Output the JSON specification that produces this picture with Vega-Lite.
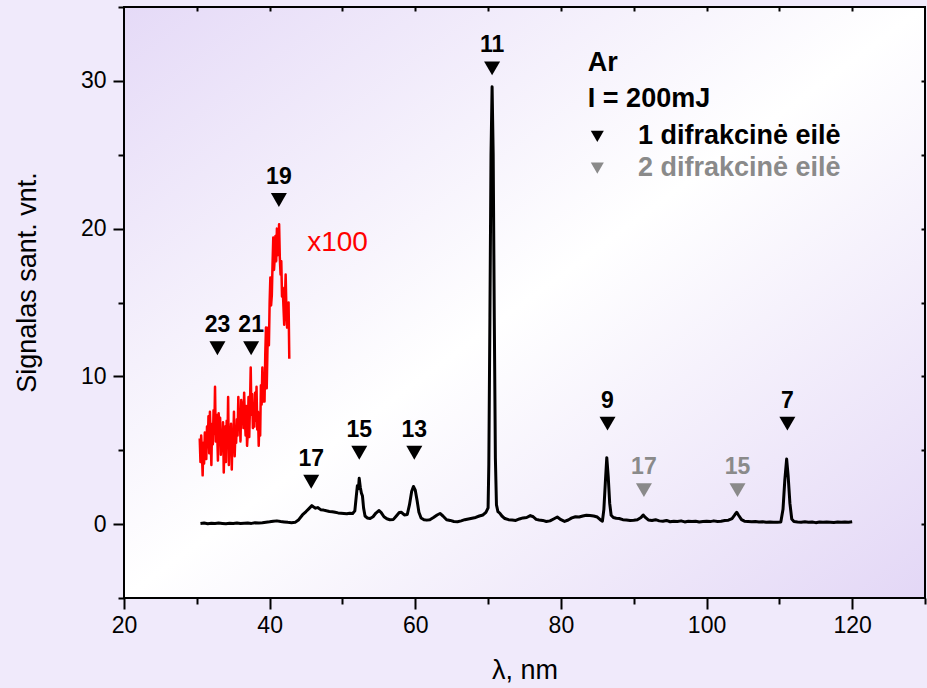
{
  "$schema": "https://vega.github.io/schema/vega-lite/v6.json",
  "width": 801,
  "height": 591,
  "autosize": {"type": "none"},
  "padding": {"left": 124, "top": 7, "right": 2, "bottom": 90},
  "background": "#f0eafb",
  "config": {
    "font": "Liberation Sans",
    "view": {
      "stroke": "#000000",
      "strokeWidth": 2,
      "fill": {
        "gradient": "linear",
        "x1": 0, "y1": 0, "x2": 1, "y2": 1,
        "stops": [
          {"offset": 0, "color": "#e5daf7"},
          {"offset": 0.5, "color": "#ffffff"},
          {"offset": 1, "color": "#e3d7f6"}
        ]
      }
    },
    "axis": {
      "domain": false,
      "grid": false,
      "tickColor": "#000000",
      "tickWidth": 2,
      "labelColor": "#000000",
      "labelFont": "Liberation Sans",
      "labelFontSize": 23,
      "titleColor": "#000000",
      "titleFont": "Liberation Sans",
      "titleFontWeight": "normal",
      "titleFontSize": 27,
      "zindex": 1
    }
  },
  "datasets": {
    "spectrum": [
      {"lambda": 30.5, "signal": 0.05}, {"lambda": 31.0, "signal": 0.08}, {"lambda": 31.5, "signal": 0.03},
      {"lambda": 32.0, "signal": 0.06}, {"lambda": 32.5, "signal": 0.04}, {"lambda": 33.0, "signal": 0.07},
      {"lambda": 33.5, "signal": 0.05}, {"lambda": 34.0, "signal": 0.03}, {"lambda": 34.5, "signal": 0.06},
      {"lambda": 35.0, "signal": 0.05}, {"lambda": 35.5, "signal": 0.08}, {"lambda": 36.0, "signal": 0.04},
      {"lambda": 36.5, "signal": 0.06}, {"lambda": 37.0, "signal": 0.07}, {"lambda": 37.5, "signal": 0.05},
      {"lambda": 38.0, "signal": 0.09}, {"lambda": 38.5, "signal": 0.08}, {"lambda": 39.0, "signal": 0.1},
      {"lambda": 39.5, "signal": 0.13}, {"lambda": 40.0, "signal": 0.16}, {"lambda": 40.5, "signal": 0.2},
      {"lambda": 41.0, "signal": 0.22}, {"lambda": 41.5, "signal": 0.18}, {"lambda": 42.0, "signal": 0.15},
      {"lambda": 42.5, "signal": 0.12}, {"lambda": 43.0, "signal": 0.1}, {"lambda": 43.5, "signal": 0.12},
      {"lambda": 44.0, "signal": 0.3}, {"lambda": 44.5, "signal": 0.62}, {"lambda": 45.0, "signal": 0.85},
      {"lambda": 45.4, "signal": 1.05}, {"lambda": 45.8, "signal": 1.25}, {"lambda": 46.0, "signal": 1.18},
      {"lambda": 46.3, "signal": 1.08}, {"lambda": 46.6, "signal": 1.12}, {"lambda": 47.0, "signal": 0.98},
      {"lambda": 47.4, "signal": 0.95}, {"lambda": 47.8, "signal": 0.9}, {"lambda": 48.2, "signal": 0.86},
      {"lambda": 48.6, "signal": 0.84}, {"lambda": 49.0, "signal": 0.8}, {"lambda": 49.4, "signal": 0.76},
      {"lambda": 49.8, "signal": 0.74}, {"lambda": 50.2, "signal": 0.72}, {"lambda": 50.6, "signal": 0.7},
      {"lambda": 51.0, "signal": 0.74}, {"lambda": 51.4, "signal": 0.72}, {"lambda": 51.7, "signal": 0.9},
      {"lambda": 51.9, "signal": 1.9}, {"lambda": 52.05, "signal": 2.6}, {"lambda": 52.2, "signal": 2.4},
      {"lambda": 52.3, "signal": 3.1}, {"lambda": 52.45, "signal": 2.5}, {"lambda": 52.6, "signal": 2.1},
      {"lambda": 52.75, "signal": 1.9}, {"lambda": 52.9, "signal": 1.1}, {"lambda": 53.1, "signal": 0.55},
      {"lambda": 53.4, "signal": 0.42}, {"lambda": 53.8, "signal": 0.38}, {"lambda": 54.2, "signal": 0.5},
      {"lambda": 54.6, "signal": 0.75}, {"lambda": 55.0, "signal": 0.92}, {"lambda": 55.3, "signal": 0.8},
      {"lambda": 55.7, "signal": 0.5}, {"lambda": 56.1, "signal": 0.36}, {"lambda": 56.5, "signal": 0.3},
      {"lambda": 57.0, "signal": 0.32}, {"lambda": 57.4, "signal": 0.55}, {"lambda": 57.8, "signal": 0.78},
      {"lambda": 58.1, "signal": 0.8}, {"lambda": 58.5, "signal": 0.62}, {"lambda": 58.9, "signal": 0.65},
      {"lambda": 59.2, "signal": 1.3}, {"lambda": 59.5, "signal": 2.2}, {"lambda": 59.75, "signal": 2.55},
      {"lambda": 60.0, "signal": 2.3}, {"lambda": 60.25, "signal": 1.6}, {"lambda": 60.5, "signal": 0.8},
      {"lambda": 60.8, "signal": 0.42}, {"lambda": 61.2, "signal": 0.3}, {"lambda": 61.6, "signal": 0.27},
      {"lambda": 62.0, "signal": 0.3}, {"lambda": 62.5, "signal": 0.45}, {"lambda": 63.0, "signal": 0.62},
      {"lambda": 63.4, "signal": 0.72}, {"lambda": 63.8, "signal": 0.55}, {"lambda": 64.3, "signal": 0.3},
      {"lambda": 64.8, "signal": 0.25}, {"lambda": 65.3, "signal": 0.18}, {"lambda": 65.8, "signal": 0.16},
      {"lambda": 66.3, "signal": 0.22}, {"lambda": 66.8, "signal": 0.3}, {"lambda": 67.3, "signal": 0.35},
      {"lambda": 67.8, "signal": 0.4}, {"lambda": 68.3, "signal": 0.45}, {"lambda": 68.8, "signal": 0.55},
      {"lambda": 69.3, "signal": 0.62}, {"lambda": 69.7, "signal": 0.8}, {"lambda": 70.0, "signal": 1.1},
      {"lambda": 70.1, "signal": 4.0}, {"lambda": 70.25, "signal": 14.0}, {"lambda": 70.4, "signal": 25.0},
      {"lambda": 70.55, "signal": 29.6}, {"lambda": 70.7, "signal": 25.0}, {"lambda": 70.85, "signal": 14.0},
      {"lambda": 71.0, "signal": 4.5}, {"lambda": 71.15, "signal": 1.3}, {"lambda": 71.35, "signal": 0.85},
      {"lambda": 71.6, "signal": 0.75}, {"lambda": 71.9, "signal": 0.55}, {"lambda": 72.3, "signal": 0.38},
      {"lambda": 72.8, "signal": 0.3}, {"lambda": 73.3, "signal": 0.28}, {"lambda": 73.8, "signal": 0.25},
      {"lambda": 74.3, "signal": 0.35}, {"lambda": 74.8, "signal": 0.42}, {"lambda": 75.3, "signal": 0.45},
      {"lambda": 75.8, "signal": 0.58}, {"lambda": 76.2, "signal": 0.5}, {"lambda": 76.6, "signal": 0.32},
      {"lambda": 77.0, "signal": 0.28}, {"lambda": 77.5, "signal": 0.25}, {"lambda": 78.0, "signal": 0.18},
      {"lambda": 78.5, "signal": 0.22}, {"lambda": 79.0, "signal": 0.35}, {"lambda": 79.5, "signal": 0.48},
      {"lambda": 80.0, "signal": 0.3}, {"lambda": 80.5, "signal": 0.18}, {"lambda": 81.0, "signal": 0.28},
      {"lambda": 81.5, "signal": 0.42}, {"lambda": 82.0, "signal": 0.5}, {"lambda": 82.5, "signal": 0.48},
      {"lambda": 83.0, "signal": 0.55}, {"lambda": 83.5, "signal": 0.6}, {"lambda": 84.0, "signal": 0.58},
      {"lambda": 84.5, "signal": 0.55}, {"lambda": 85.0, "signal": 0.48}, {"lambda": 85.4, "signal": 0.3},
      {"lambda": 85.7, "signal": 0.2}, {"lambda": 85.9, "signal": 1.0}, {"lambda": 86.1, "signal": 2.8},
      {"lambda": 86.3, "signal": 4.5}, {"lambda": 86.5, "signal": 3.2}, {"lambda": 86.7, "signal": 1.4},
      {"lambda": 86.9, "signal": 0.6}, {"lambda": 87.2, "signal": 0.45}, {"lambda": 87.6, "signal": 0.4},
      {"lambda": 88.0, "signal": 0.38}, {"lambda": 88.5, "signal": 0.3}, {"lambda": 89.0, "signal": 0.28},
      {"lambda": 89.5, "signal": 0.25}, {"lambda": 90.0, "signal": 0.27}, {"lambda": 90.5, "signal": 0.3},
      {"lambda": 91.0, "signal": 0.45}, {"lambda": 91.3, "signal": 0.62}, {"lambda": 91.6, "signal": 0.45},
      {"lambda": 92.0, "signal": 0.28}, {"lambda": 92.5, "signal": 0.25}, {"lambda": 93.0, "signal": 0.3},
      {"lambda": 93.5, "signal": 0.22}, {"lambda": 94.0, "signal": 0.2}, {"lambda": 94.5, "signal": 0.25},
      {"lambda": 95.0, "signal": 0.16}, {"lambda": 95.5, "signal": 0.2}, {"lambda": 96.0, "signal": 0.18},
      {"lambda": 96.5, "signal": 0.22}, {"lambda": 97.0, "signal": 0.15}, {"lambda": 97.5, "signal": 0.2},
      {"lambda": 98.0, "signal": 0.17}, {"lambda": 98.5, "signal": 0.2}, {"lambda": 99.0, "signal": 0.15},
      {"lambda": 99.5, "signal": 0.18}, {"lambda": 100.0, "signal": 0.2}, {"lambda": 100.5, "signal": 0.17},
      {"lambda": 101.0, "signal": 0.22}, {"lambda": 101.5, "signal": 0.18}, {"lambda": 102.0, "signal": 0.2},
      {"lambda": 102.5, "signal": 0.25}, {"lambda": 103.0, "signal": 0.27}, {"lambda": 103.5, "signal": 0.38},
      {"lambda": 103.9, "signal": 0.65}, {"lambda": 104.15, "signal": 0.8}, {"lambda": 104.4, "signal": 0.6},
      {"lambda": 104.8, "signal": 0.3}, {"lambda": 105.2, "signal": 0.2}, {"lambda": 105.7, "signal": 0.18},
      {"lambda": 106.2, "signal": 0.16}, {"lambda": 106.7, "signal": 0.18}, {"lambda": 107.2, "signal": 0.14},
      {"lambda": 107.7, "signal": 0.16}, {"lambda": 108.2, "signal": 0.12}, {"lambda": 108.7, "signal": 0.15},
      {"lambda": 109.2, "signal": 0.13}, {"lambda": 109.7, "signal": 0.12}, {"lambda": 110.2, "signal": 0.15},
      {"lambda": 110.5, "signal": 1.0}, {"lambda": 110.75, "signal": 3.0}, {"lambda": 111.0, "signal": 4.4},
      {"lambda": 111.2, "signal": 3.3}, {"lambda": 111.45, "signal": 1.4}, {"lambda": 111.7, "signal": 0.35},
      {"lambda": 112.0, "signal": 0.18}, {"lambda": 112.5, "signal": 0.15}, {"lambda": 113.0, "signal": 0.13},
      {"lambda": 113.5, "signal": 0.16}, {"lambda": 114.0, "signal": 0.12}, {"lambda": 114.5, "signal": 0.15},
      {"lambda": 115.0, "signal": 0.1}, {"lambda": 115.5, "signal": 0.14}, {"lambda": 116.0, "signal": 0.12},
      {"lambda": 116.5, "signal": 0.15}, {"lambda": 117.0, "signal": 0.13}, {"lambda": 117.5, "signal": 0.11},
      {"lambda": 118.0, "signal": 0.14}, {"lambda": 118.5, "signal": 0.12}, {"lambda": 119.0, "signal": 0.15},
      {"lambda": 119.5, "signal": 0.13}, {"lambda": 120.0, "signal": 0.16}
    ],
    "magnified": [
      {"lambda": 30.4, "signal": 5.8}, {"lambda": 30.5, "signal": 4.2}, {"lambda": 30.6, "signal": 6.0},
      {"lambda": 30.7, "signal": 4.9}, {"lambda": 30.8, "signal": 3.3}, {"lambda": 30.9, "signal": 5.5},
      {"lambda": 31.0, "signal": 4.1}, {"lambda": 31.1, "signal": 6.2}, {"lambda": 31.2, "signal": 5.0},
      {"lambda": 31.3, "signal": 4.4}, {"lambda": 31.4, "signal": 6.6}, {"lambda": 31.5, "signal": 5.2},
      {"lambda": 31.6, "signal": 7.3}, {"lambda": 31.7, "signal": 4.8}, {"lambda": 31.8, "signal": 7.6},
      {"lambda": 31.9, "signal": 5.9}, {"lambda": 32.0, "signal": 4.0}, {"lambda": 32.1, "signal": 6.8},
      {"lambda": 32.2, "signal": 5.4}, {"lambda": 32.3, "signal": 7.7}, {"lambda": 32.4, "signal": 6.1},
      {"lambda": 32.5, "signal": 9.3}, {"lambda": 32.6, "signal": 5.6}, {"lambda": 32.7, "signal": 7.4},
      {"lambda": 32.8, "signal": 6.2}, {"lambda": 32.9, "signal": 4.3}, {"lambda": 33.0, "signal": 7.5},
      {"lambda": 33.1, "signal": 6.0}, {"lambda": 33.2, "signal": 7.2}, {"lambda": 33.3, "signal": 4.7},
      {"lambda": 33.4, "signal": 6.3}, {"lambda": 33.5, "signal": 5.1}, {"lambda": 33.6, "signal": 6.9},
      {"lambda": 33.7, "signal": 3.5}, {"lambda": 33.8, "signal": 5.8}, {"lambda": 33.9, "signal": 6.6},
      {"lambda": 34.0, "signal": 4.2}, {"lambda": 34.1, "signal": 7.0}, {"lambda": 34.2, "signal": 5.3},
      {"lambda": 34.3, "signal": 8.6}, {"lambda": 34.4, "signal": 4.0}, {"lambda": 34.5, "signal": 6.4},
      {"lambda": 34.6, "signal": 5.0}, {"lambda": 34.7, "signal": 6.8}, {"lambda": 34.8, "signal": 3.7},
      {"lambda": 34.9, "signal": 6.1}, {"lambda": 35.0, "signal": 5.2}, {"lambda": 35.1, "signal": 7.6},
      {"lambda": 35.2, "signal": 4.6}, {"lambda": 35.3, "signal": 6.2}, {"lambda": 35.4, "signal": 5.5},
      {"lambda": 35.5, "signal": 7.1}, {"lambda": 35.6, "signal": 6.0}, {"lambda": 35.7, "signal": 8.6},
      {"lambda": 35.8, "signal": 6.4}, {"lambda": 35.9, "signal": 7.3}, {"lambda": 36.0, "signal": 5.6},
      {"lambda": 36.1, "signal": 8.4}, {"lambda": 36.2, "signal": 7.0}, {"lambda": 36.3, "signal": 8.2},
      {"lambda": 36.4, "signal": 6.5}, {"lambda": 36.5, "signal": 8.9}, {"lambda": 36.6, "signal": 7.1},
      {"lambda": 36.7, "signal": 6.0}, {"lambda": 36.8, "signal": 8.0}, {"lambda": 36.9, "signal": 5.3},
      {"lambda": 37.0, "signal": 6.2}, {"lambda": 37.1, "signal": 8.6}, {"lambda": 37.2, "signal": 5.9},
      {"lambda": 37.3, "signal": 8.0}, {"lambda": 37.4, "signal": 10.6}, {"lambda": 37.5, "signal": 7.4},
      {"lambda": 37.6, "signal": 8.8}, {"lambda": 37.7, "signal": 6.5}, {"lambda": 37.8, "signal": 7.9},
      {"lambda": 37.9, "signal": 6.6}, {"lambda": 38.0, "signal": 8.9}, {"lambda": 38.1, "signal": 7.0},
      {"lambda": 38.2, "signal": 9.3}, {"lambda": 38.3, "signal": 6.4}, {"lambda": 38.4, "signal": 7.6},
      {"lambda": 38.5, "signal": 5.3}, {"lambda": 38.6, "signal": 7.2}, {"lambda": 38.7, "signal": 6.0},
      {"lambda": 38.8, "signal": 9.4}, {"lambda": 38.9, "signal": 8.1}, {"lambda": 39.0, "signal": 10.6},
      {"lambda": 39.1, "signal": 8.3}, {"lambda": 39.2, "signal": 10.2}, {"lambda": 39.3, "signal": 8.3},
      {"lambda": 39.4, "signal": 11.5}, {"lambda": 39.5, "signal": 13.3}, {"lambda": 39.6, "signal": 9.2},
      {"lambda": 39.7, "signal": 11.8}, {"lambda": 39.8, "signal": 13.3}, {"lambda": 39.9, "signal": 12.1},
      {"lambda": 40.0, "signal": 15.0}, {"lambda": 40.1, "signal": 16.7}, {"lambda": 40.2, "signal": 14.8},
      {"lambda": 40.3, "signal": 15.5}, {"lambda": 40.4, "signal": 17.6}, {"lambda": 40.5, "signal": 19.4},
      {"lambda": 40.6, "signal": 17.2}, {"lambda": 40.7, "signal": 18.0}, {"lambda": 40.8, "signal": 19.5},
      {"lambda": 40.9, "signal": 17.8}, {"lambda": 41.0, "signal": 20.0}, {"lambda": 41.1, "signal": 18.2},
      {"lambda": 41.2, "signal": 18.7}, {"lambda": 41.3, "signal": 20.3}, {"lambda": 41.4, "signal": 18.0},
      {"lambda": 41.5, "signal": 16.9}, {"lambda": 41.6, "signal": 17.8}, {"lambda": 41.7, "signal": 15.4},
      {"lambda": 41.8, "signal": 16.0}, {"lambda": 41.9, "signal": 14.7}, {"lambda": 42.0, "signal": 13.5},
      {"lambda": 42.1, "signal": 15.2}, {"lambda": 42.2, "signal": 16.9}, {"lambda": 42.3, "signal": 14.6},
      {"lambda": 42.4, "signal": 13.3}, {"lambda": 42.5, "signal": 14.0}, {"lambda": 42.6, "signal": 15.0},
      {"lambda": 42.7, "signal": 11.2}
    ],
    "harmonics": [
      {"lambda": 32.83, "signal": 11.9, "label": "23", "order": "1"},
      {"lambda": 37.46, "signal": 11.9, "label": "21", "order": "1"},
      {"lambda": 41.27, "signal": 21.94, "label": "19", "order": "1"},
      {"lambda": 45.71, "signal": 2.87, "label": "17", "order": "1"},
      {"lambda": 52.31, "signal": 4.83, "label": "15", "order": "1"},
      {"lambda": 59.87, "signal": 4.83, "label": "13", "order": "1"},
      {"lambda": 70.55, "signal": 30.85, "label": "11", "order": "1"},
      {"lambda": 86.4, "signal": 6.8, "label": "9", "order": "1"},
      {"lambda": 111.1, "signal": 6.8, "label": "7", "order": "1"},
      {"lambda": 91.4, "signal": 2.3, "label": "17", "order": "2"},
      {"lambda": 104.25, "signal": 2.3, "label": "15", "order": "2"}
    ],
    "heading": [
      {"lambda": 83.7, "signal": 31.19, "text": "Ar"},
      {"lambda": 83.7, "signal": 28.75, "text": "I = 200mJ"}
    ],
    "key": [
      {"lambda": 85.0, "textLambda": 90.58, "signal": 26.25, "order": "1", "text": "1 difrakcinė eilė"},
      {"lambda": 85.0, "textLambda": 90.58, "signal": 24.1, "order": "2", "text": "2 difrakcinė eilė"}
    ],
    "factor": [
      {"lambda": 45.16, "signal": 19.0, "text": "x100"}
    ]
  },
  "layer": [
    {
      "data": {"name": "spectrum"},
      "mark": {"type": "line", "color": "#000000", "strokeWidth": 3, "strokeJoin": "round"},
      "encoding": {
        "x": {
          "field": "lambda", "type": "quantitative",
          "scale": {"domain": [20, 130], "nice": false, "zero": false},
          "axis": {
            "orient": "bottom", "values": [20, 40, 60, 80, 100, 120],
            "tickSize": 11, "labelPadding": 5, "labelFlush": false,
            "title": "λ, nm", "titlePadding": 20
          }
        },
        "y": {
          "field": "signal", "type": "quantitative",
          "scale": {"domain": [-5, 35], "nice": false, "zero": false},
          "axis": {
            "orient": "left", "values": [0, 10, 20, 30],
            "tickSize": 11, "labelPadding": 7, "labelFlush": false,
            "title": "Signalas sant. vnt.",
            "titleAngle": -90, "titleAlign": "center", "titleBaseline": "middle",
            "titleX": -97, "titleY": 275
          }
        }
      }
    },
    {
      "data": {"name": "magnified"},
      "mark": {"type": "line", "color": "#ff0000", "strokeWidth": 2.5, "strokeJoin": "round"},
      "encoding": {
        "x": {
          "field": "lambda", "type": "quantitative",
          "scale": {"domain": [20, 130], "nice": false, "zero": false},
          "axis": {"orient": "bottom", "values": [30, 50, 70, 90, 110, 130], "tickSize": 6, "labels": false, "title": null}
        },
        "y": {
          "field": "signal", "type": "quantitative",
          "scale": {"domain": [-5, 35], "nice": false, "zero": false},
          "axis": {"orient": "left", "values": [-5, 5, 15, 25, 35], "tickSize": 6, "labels": false, "title": null}
        }
      }
    },
    {
      "data": {"name": "harmonics"},
      "mark": {"type": "point", "shape": "triangle-down", "filled": true, "size": 256, "opacity": 1},
      "encoding": {
        "x": {
          "field": "lambda", "type": "quantitative",
          "scale": {"domain": [20, 130], "nice": false, "zero": false},
          "axis": {"orient": "top", "values": [30, 40, 50, 60, 70, 80, 90, 100, 110, 120], "tickSize": -4, "labels": false, "title": null}
        },
        "y": {
          "field": "signal", "type": "quantitative",
          "scale": {"domain": [-5, 35], "nice": false, "zero": false},
          "axis": {"orient": "right", "values": [0, 5, 10, 15, 20, 25, 30], "tickSize": -4, "labels": false, "title": null}
        },
        "color": {
          "field": "order", "type": "nominal",
          "scale": {"domain": ["1", "2"], "range": ["#000000", "#8a8a8a"]},
          "legend": null
        }
      }
    },
    {
      "data": {"name": "harmonics"},
      "mark": {"type": "text", "fontWeight": "bold", "fontSize": 23, "dy": -23, "align": "center", "baseline": "middle"},
      "encoding": {
        "x": {"field": "lambda", "type": "quantitative", "scale": {"domain": [20, 130], "nice": false, "zero": false}, "axis": null},
        "y": {"field": "signal", "type": "quantitative", "scale": {"domain": [-5, 35], "nice": false, "zero": false}, "axis": null},
        "text": {"field": "label"},
        "color": {
          "field": "order", "type": "nominal",
          "scale": {"domain": ["1", "2"], "range": ["#000000", "#8a8a8a"]},
          "legend": null
        }
      }
    },
    {
      "data": {"name": "heading"},
      "mark": {"type": "text", "fontWeight": "bold", "fontSize": 27, "align": "left", "baseline": "middle", "color": "#000000"},
      "encoding": {
        "x": {"field": "lambda", "type": "quantitative", "scale": {"domain": [20, 130], "nice": false, "zero": false}, "axis": null},
        "y": {"field": "signal", "type": "quantitative", "scale": {"domain": [-5, 35], "nice": false, "zero": false}, "axis": null},
        "text": {"field": "text"}
      }
    },
    {
      "data": {"name": "key"},
      "mark": {"type": "point", "shape": "triangle-down", "filled": true, "size": 170, "opacity": 1},
      "encoding": {
        "x": {"field": "lambda", "type": "quantitative", "scale": {"domain": [20, 130], "nice": false, "zero": false}, "axis": null},
        "y": {"field": "signal", "type": "quantitative", "scale": {"domain": [-5, 35], "nice": false, "zero": false}, "axis": null},
        "color": {
          "field": "order", "type": "nominal",
          "scale": {"domain": ["1", "2"], "range": ["#000000", "#8a8a8a"]},
          "legend": null
        }
      }
    },
    {
      "data": {"name": "key"},
      "mark": {"type": "text", "fontWeight": "bold", "fontSize": 27, "align": "left", "baseline": "middle"},
      "encoding": {
        "x": {"field": "textLambda", "type": "quantitative", "scale": {"domain": [20, 130], "nice": false, "zero": false}, "axis": null},
        "y": {"field": "signal", "type": "quantitative", "scale": {"domain": [-5, 35], "nice": false, "zero": false}, "axis": null},
        "text": {"field": "text"},
        "color": {
          "field": "order", "type": "nominal",
          "scale": {"domain": ["1", "2"], "range": ["#000000", "#8a8a8a"]},
          "legend": null
        }
      }
    },
    {
      "data": {"name": "factor"},
      "mark": {"type": "text", "fontSize": 28, "align": "left", "baseline": "middle", "color": "#ff0000"},
      "encoding": {
        "x": {"field": "lambda", "type": "quantitative", "scale": {"domain": [20, 130], "nice": false, "zero": false}, "axis": null},
        "y": {"field": "signal", "type": "quantitative", "scale": {"domain": [-5, 35], "nice": false, "zero": false}, "axis": null},
        "text": {"field": "text"}
      }
    }
  ],
  "resolve": {"axis": {"x": "independent", "y": "independent"}}
}
